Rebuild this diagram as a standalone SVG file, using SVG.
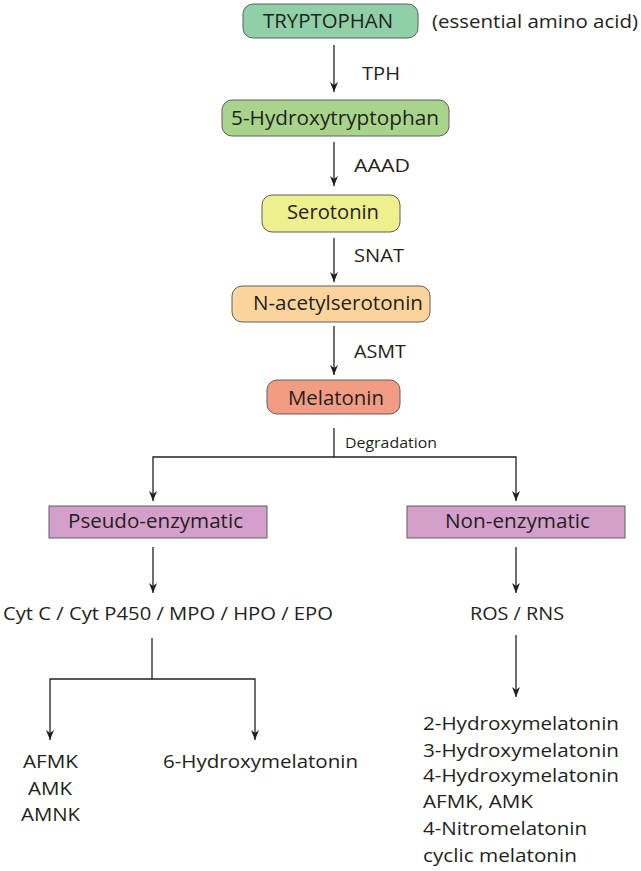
<svg xmlns="http://www.w3.org/2000/svg" width="641" height="871" viewBox="0 0 641 871">
<defs>
<marker id="ah" viewBox="0 0 10 10" refX="10" refY="5" markerWidth="10" markerHeight="10" markerUnits="userSpaceOnUse" orient="auto">
<path d="M0,1 L10,5 L0,9 L3,5 Z" fill="#231f20"/>
</marker>
</defs>
<style>
text{font-family:"Open Sans","Noto Sans","Liberation Sans",sans-serif;fill:#231f20;}
.n{font-size:19.5px;text-anchor:start;}
.t{font-size:19px;}
.s{font-size:15px;}
.box{stroke:#5f5f5f;stroke-width:1;}
.c{fill:none;stroke:#231f20;stroke-width:1.3;}
.a{fill:none;stroke:#231f20;stroke-width:1.3;marker-end:url(#ah);}
</style>
<rect width="641" height="871" fill="#ffffff"/>
<g id="tryptophan">
<rect class="box" x="243" y="4" width="175" height="34" rx="10" fill="#8fd0a8"/>
<text class="n" x="263" y="28" textLength="130" lengthAdjust="spacingAndGlyphs">TRYPTOPHAN</text>
</g>
<g id="essential-note">
<text class="t" x="432" y="28" textLength="206" lengthAdjust="spacingAndGlyphs">(essential amino acid)</text>
</g>
<g id="hydroxytryptophan">
<rect class="box" x="222" y="100" width="227" height="36" rx="10" fill="#a9d48c"/>
<text class="n" x="231" y="125" textLength="208" lengthAdjust="spacingAndGlyphs">5-Hydroxytryptophan</text>
</g>
<g id="serotonin">
<rect class="box" x="262" y="195" width="138" height="37" rx="10" fill="#eeef8d"/>
<text class="n" x="287" y="219" textLength="92" lengthAdjust="spacingAndGlyphs">Serotonin</text>
</g>
<g id="n-acetylserotonin">
<rect class="box" x="232" y="286" width="198" height="36" rx="10" fill="#fdd49c"/>
<text class="n" x="253" y="310" textLength="170" lengthAdjust="spacingAndGlyphs">N-acetylserotonin</text>
</g>
<g id="melatonin">
<rect class="box" x="267" y="380" width="133" height="34" rx="10" fill="#f39c84"/>
<text class="n" x="288" y="405" textLength="96" lengthAdjust="spacingAndGlyphs">Melatonin</text>
</g>
<g id="pseudo-enzymatic">
<rect class="box" x="49" y="506" width="218" height="32" fill="#d4a0cb"/>
<text class="n" x="68" y="528" textLength="175" lengthAdjust="spacingAndGlyphs">Pseudo-enzymatic</text>
</g>
<g id="non-enzymatic">
<rect class="box" x="407" y="506" width="218" height="32" fill="#d4a0cb"/>
<text class="n" x="445" y="528" textLength="145" lengthAdjust="spacingAndGlyphs">Non-enzymatic</text>
</g>
<g id="enzymes">
<text class="t" x="3" y="620" textLength="330" lengthAdjust="spacingAndGlyphs">Cyt C / Cyt P450 / MPO / HPO / EPO</text>
</g>
<g id="ros-rns">
<text class="t" x="470" y="620" textLength="94" lengthAdjust="spacingAndGlyphs">ROS / RNS</text>
</g>
<g id="afmk-group">
<text class="t" x="23" y="768" textLength="55" lengthAdjust="spacingAndGlyphs">AFMK</text>
<text class="t" x="28" y="795" textLength="44" lengthAdjust="spacingAndGlyphs">AMK</text>
<text class="t" x="21" y="821" textLength="59" lengthAdjust="spacingAndGlyphs">AMNK</text>
</g>
<g id="hydroxymelatonin6">
<text class="t" x="163" y="768" textLength="195" lengthAdjust="spacingAndGlyphs">6-Hydroxymelatonin</text>
</g>
<g id="products-right">
<text class="t" x="423" y="730" textLength="196" lengthAdjust="spacingAndGlyphs">2-Hydroxymelatonin</text>
<text class="t" x="423" y="757" textLength="196" lengthAdjust="spacingAndGlyphs">3-Hydroxymelatonin</text>
<text class="t" x="423" y="782" textLength="196" lengthAdjust="spacingAndGlyphs">4-Hydroxymelatonin</text>
<text class="t" x="423" y="808" textLength="110" lengthAdjust="spacingAndGlyphs">AFMK, AMK</text>
<text class="t" x="423" y="835" textLength="164" lengthAdjust="spacingAndGlyphs">4-Nitromelatonin</text>
<text class="t" x="423" y="862" textLength="154" lengthAdjust="spacingAndGlyphs">cyclic melatonin</text>
</g>
<g id="connectors">
<line class="a" x1="334" y1="45" x2="334" y2="92"/>
<line class="a" x1="334" y1="142" x2="334" y2="186"/>
<line class="a" x1="334" y1="238" x2="334" y2="282"/>
<line class="a" x1="334" y1="326" x2="334" y2="375"/>
<polyline class="c" points="334,428 334,457"/>
<polyline class="a" points="334,457 153,457 153,501"/>
<polyline class="a" points="334,457 516,457 516,501"/>
<line class="a" x1="153" y1="547" x2="153" y2="593"/>
<line class="a" x1="516" y1="547" x2="516" y2="593"/>
<polyline class="c" points="152,638 152,679"/>
<polyline class="a" points="152,679 50,679 50,740"/>
<polyline class="a" points="152,679 255,679 255,740"/>
<line class="a" x1="516" y1="635" x2="516" y2="697"/>
<text x="362" y="80" class="t" textLength="38" lengthAdjust="spacingAndGlyphs">TPH</text>
<text x="354" y="172" class="t" textLength="56" lengthAdjust="spacingAndGlyphs">AAAD</text>
<text x="354" y="262" class="t" textLength="50" lengthAdjust="spacingAndGlyphs">SNAT</text>
<text x="354" y="358" class="t" textLength="52" lengthAdjust="spacingAndGlyphs">ASMT</text>
<text x="345" y="448" class="s" textLength="92" lengthAdjust="spacingAndGlyphs">Degradation</text>
</g>
</svg>
